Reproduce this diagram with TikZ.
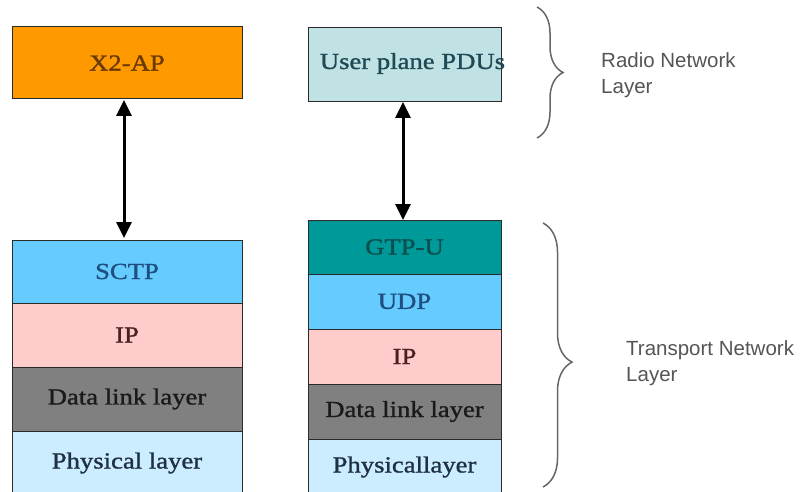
\documentclass[tikz,border=0pt]{standalone}
\usepackage{fontspec}
\setmainfont[FakeStretch=1.16,FakeBold=1.2]{Liberation Serif}
\newfontfamily\labelfont{Liberation Sans}
\usetikzlibrary{arrows.meta,decorations.pathreplacing,calc}
\definecolor{apor}{HTML}{FF9900}
\definecolor{aptext}{HTML}{6B3A00}
\definecolor{updfill}{HTML}{C0E2E4}
\definecolor{updtext}{HTML}{1F4A55}
\definecolor{sctpfill}{HTML}{66CCFF}
\definecolor{sctptext}{HTML}{1F4F80}
\definecolor{ipfill}{HTML}{FFCCCC}
\definecolor{iptext}{HTML}{4A2020}
\definecolor{dlfill}{HTML}{808080}
\definecolor{dltext}{HTML}{1A1A1A}
\definecolor{phfill}{HTML}{CCECFF}
\definecolor{phtext}{HTML}{1F3040}
\definecolor{gtpfill}{HTML}{009999}
\definecolor{gtptext}{HTML}{0B4F4F}
\definecolor{bordercol}{HTML}{2A2A2A}
\definecolor{bracecol}{HTML}{666666}
\definecolor{netlabelcol}{HTML}{555555}
\begin{document}
\begin{tikzpicture}[x=1pt,y=-1pt,
  layer/.style={draw=bordercol, line width=1pt, inner sep=0pt, outer sep=0pt,
    font=\fontsize{23}{27}\selectfont},
  leftcol/.style={layer, minimum width=230pt},
  rightcol/.style={layer, minimum width=193pt},
  biarrow/.style={line width=3pt, {Triangle[width=15pt,length=16pt]}-{Triangle[width=15pt,length=16pt]}},
  bracestyle/.style={draw=bracecol, line width=1.5pt, decorate},
  netlabel/.style={font=\labelfont\fontsize{20.5}{26}\selectfont, align=left, text=netlabelcol, inner sep=0pt, anchor=west}
]
\useasboundingbox (0,0) rectangle (806,492);
\clip (0,0) rectangle (806,492);
\fill[white] (0,0) rectangle (806,492);

% left column
\node[leftcol, fill=apor, text=aptext, minimum height=72pt] (x2ap) at (127,63) {X2-AP};
\node[leftcol, fill=sctpfill, text=sctptext, minimum height=63pt] (sctp) at (127,271.5) {SCTP};
\node[leftcol, fill=ipfill, text=iptext, minimum height=64pt] (ipl) at (127,335) {IP};
\node[leftcol, fill=dlfill, text=dltext, minimum height=64pt] (dll) at (127,399) {Data link layer};
\node[leftcol, fill=phfill, text=phtext, minimum height=64pt] (phl) at (127,463) {\raisebox{2pt}{Physical layer}};

% right column
\node[rightcol, fill=updfill, text=updtext, minimum height=74pt] (upd) at (404.5,65)
  {\makebox[0pt]{\hspace*{16pt}\raisebox{8pt}{User plane PDUs}}};
\node[rightcol, fill=gtpfill, text=gtptext, minimum height=54pt] (gtpu) at (404.5,247) {GTP-U};
\node[rightcol, fill=sctpfill, text=sctptext, minimum height=55pt] (udp) at (404.5,301.5) {UDP};
\node[rightcol, fill=ipfill, text=iptext, minimum height=55pt] (ipr) at (404.5,356.5) {IP};
\node[rightcol, fill=dlfill, text=dltext, minimum height=55pt] (dlr) at (404.5,411.5) {Data link layer};
\node[rightcol, fill=phfill, text=phtext, minimum height=56pt] (phr) at (404.5,467) {Physicallayer};

% arrows
\draw[biarrow] ($(x2ap.south)+(-3,1)$) -- ($(sctp.north)+(-3,-2)$);
\draw[biarrow] ($(upd.south)+(-1.5,0)$) -- ($(gtpu.north)+(-1.5,0)$);

% braces
\coordinate (rtop) at (537,7);
\coordinate (rbot) at (537,138);
\coordinate (ttop) at (543,223);
\coordinate (tbot) at (543,487);
\draw[bracestyle, decoration={brace, amplitude=26pt, aspect=0.5}] (rtop) -- (rbot);
\draw[bracestyle, decoration={brace, amplitude=29pt, aspect=0.527}] (ttop) -- (tbot);

% labels
\node[netlabel] (rnl) at (601,75) {Radio Network\\Layer};
\node[netlabel] (tnl) at (626,363.5) {Transport Network\\Layer};
\end{tikzpicture}
\end{document}
